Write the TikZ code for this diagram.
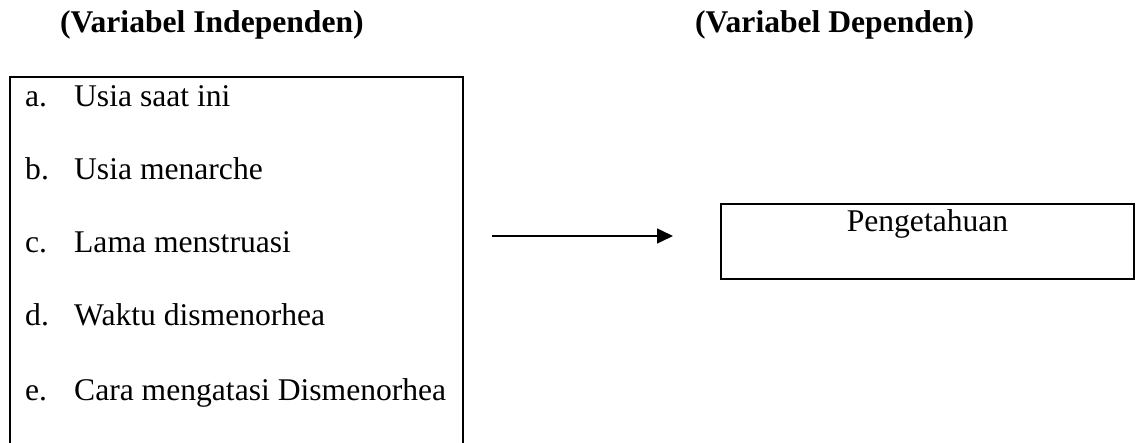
\documentclass[tikz,border=0pt]{standalone}
\usepackage{fontspec}
\setmainfont{Liberation Serif}
\usetikzlibrary{arrows.meta}

\tikzset{
  x=1pt, y=-1pt,
  txt/.style={inner sep=0pt, anchor=base west, font=\fontsize{31.6}{38}\selectfont},
  heading/.style={txt, font=\fontsize{31.6}{38}\selectfont\bfseries},
  frame/.style={line width=2pt},
  link/.style={line width=1.4pt, -{Triangle[length=16pt,width=15pt]}},
  item/.style={txt},
}
\newcommand{\itemlabel}[2]{\makebox[49pt][l]{#1}#2}

\begin{document}
\begin{tikzpicture}
  \useasboundingbox (0,0) rectangle (1137,443);

  % column headings
  \node[heading] (indhead) at (60,33) {(Variabel Independen)};
  \node[heading] (dephead) at (695,33) {(Variabel Dependen)};

  % independent variables: frame open at the bottom edge
  \coordinate (indbl) at (10,443);
  \coordinate (indtl) at (10,77);
  \coordinate (indtr) at (463,77);
  \coordinate (indbr) at (463,443);
  \draw[frame] (indbl) -- (indtl) -- (indtr) -- (indbr);

  \node[item] (ia) at (25,107) {\itemlabel{a.}{Usia saat ini}};
  \node[item] (ib) at (25,180) {\itemlabel{b.}{Usia menarche}};
  \node[item] (ic) at (25,253) {\itemlabel{c.}{Lama menstruasi}};
  \node[item] (id) at (25,326) {\itemlabel{d.}{Waktu dismenorhea}};
  \node[item] (ie) at (25,400) {\itemlabel{e.}{Cara mengatasi Dismenorhea}};

  % dependent variable box
  \node[frame, draw, minimum width=413pt, minimum height=75pt, inner sep=0pt]
    (dep) at (927.5,241.5) {};
  \node[txt, anchor=base] (deptext) at ([yshift=-29pt]dep.north) {Pengetahuan};

  % relation arrow
  \coordinate (arrfrom) at (492,236);
  \coordinate (arrto) at (673,236);
  \draw[link] (arrfrom) -- (arrto);
\end{tikzpicture}
\end{document}
